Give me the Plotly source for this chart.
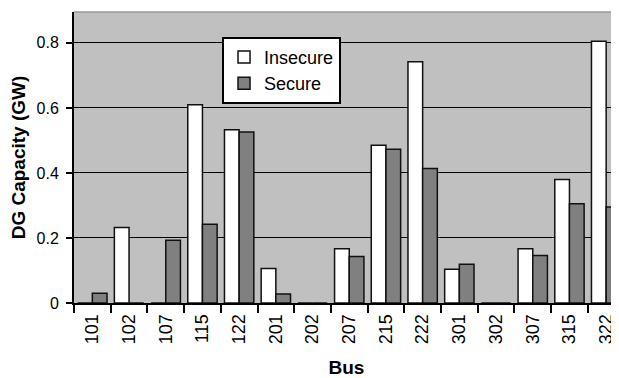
import plotly.graph_objects as go

buses = ["101", "102", "107", "115", "122", "201", "202", "207", "215", "222",
         "301", "302", "307", "315", "322"]
insecure = [0, 0.232, 0, 0.61, 0.533, 0.106, 0, 0.167, 0.485, 0.742,
            0.104, 0, 0.167, 0.38, 0.805]
secure = [0.03, 0, 0.193, 0.242, 0.526, 0.028, 0, 0.143, 0.473, 0.414,
          0.119, 0, 0.146, 0.305, 0.295]
y_ticks = [0, 0.2, 0.4, 0.6, 0.8]
y_tick_text = ["0", "0.2", "0.4", "0.6", "0.8"]

FONT = "Liberation Sans, Arial, sans-serif"

# page has an 8px body margin, so the figure is sized/offset to compensate
fig = go.Figure()
fig.add_trace(go.Bar(x=buses, y=insecure, name="Insecure", legendgroup="a",
                     marker=dict(color="#ffffff", line=dict(color="#111111", width=1.5))))
fig.add_trace(go.Bar(x=buses, y=secure, name="Secure", legendgroup="b",
                     marker=dict(color="#808080", line=dict(color="#111111", width=1.5))))

fig.update_layout(
    width=611, height=370,
    margin=dict(l=66, r=0, t=4, b=75, pad=0),
    paper_bgcolor="#ffffff", plot_bgcolor="#c0c0c0",
    font=dict(family=FONT, size=16, color="#000000"),
    bargap=0.2, bargroupgap=0,
    showlegend=True,
    legend=dict(x=0.2716, y=0.915, xanchor="left", yanchor="top",
                bgcolor="#ffffff", bordercolor="#000000", borderwidth=2,
                font=dict(family=FONT, size=18), tracegroupgap=0,
                itemwidth=30),
    xaxis=dict(type="category", range=[-0.5, 14.35], tickson="boundaries",
               ticks="outside", ticklen=8, tickwidth=2, tickcolor="#000000",
               showline=True, linecolor="#000000", linewidth=2,
               showgrid=False, tickangle=-90, tickfont=dict(size=18),
               ticklabelstandoff=2,
               title=dict(text="<b>Bus</b>", font=dict(size=19), standoff=19)),
    yaxis=dict(range=[0, 0.895], tickvals=y_ticks, ticktext=y_tick_text,
               ticks="outside", ticklen=6, tickwidth=2, tickcolor="#000000",
               showline=True, linecolor="#000000", linewidth=2,
               showgrid=True, gridcolor="#000000", gridwidth=1,
               zeroline=False, tickfont=dict(size=16), ticklabelstandoff=4,
               title=dict(text="<b>DG Capacity (GW)</b>", font=dict(size=19), standoff=13)),
    shapes=[dict(type="line", xref="paper", yref="paper", x0=0, x1=1, y0=1, y1=1,
                 line=dict(color="#9a9a9a", width=1.5))],
)

fig.write_html("out.html")
